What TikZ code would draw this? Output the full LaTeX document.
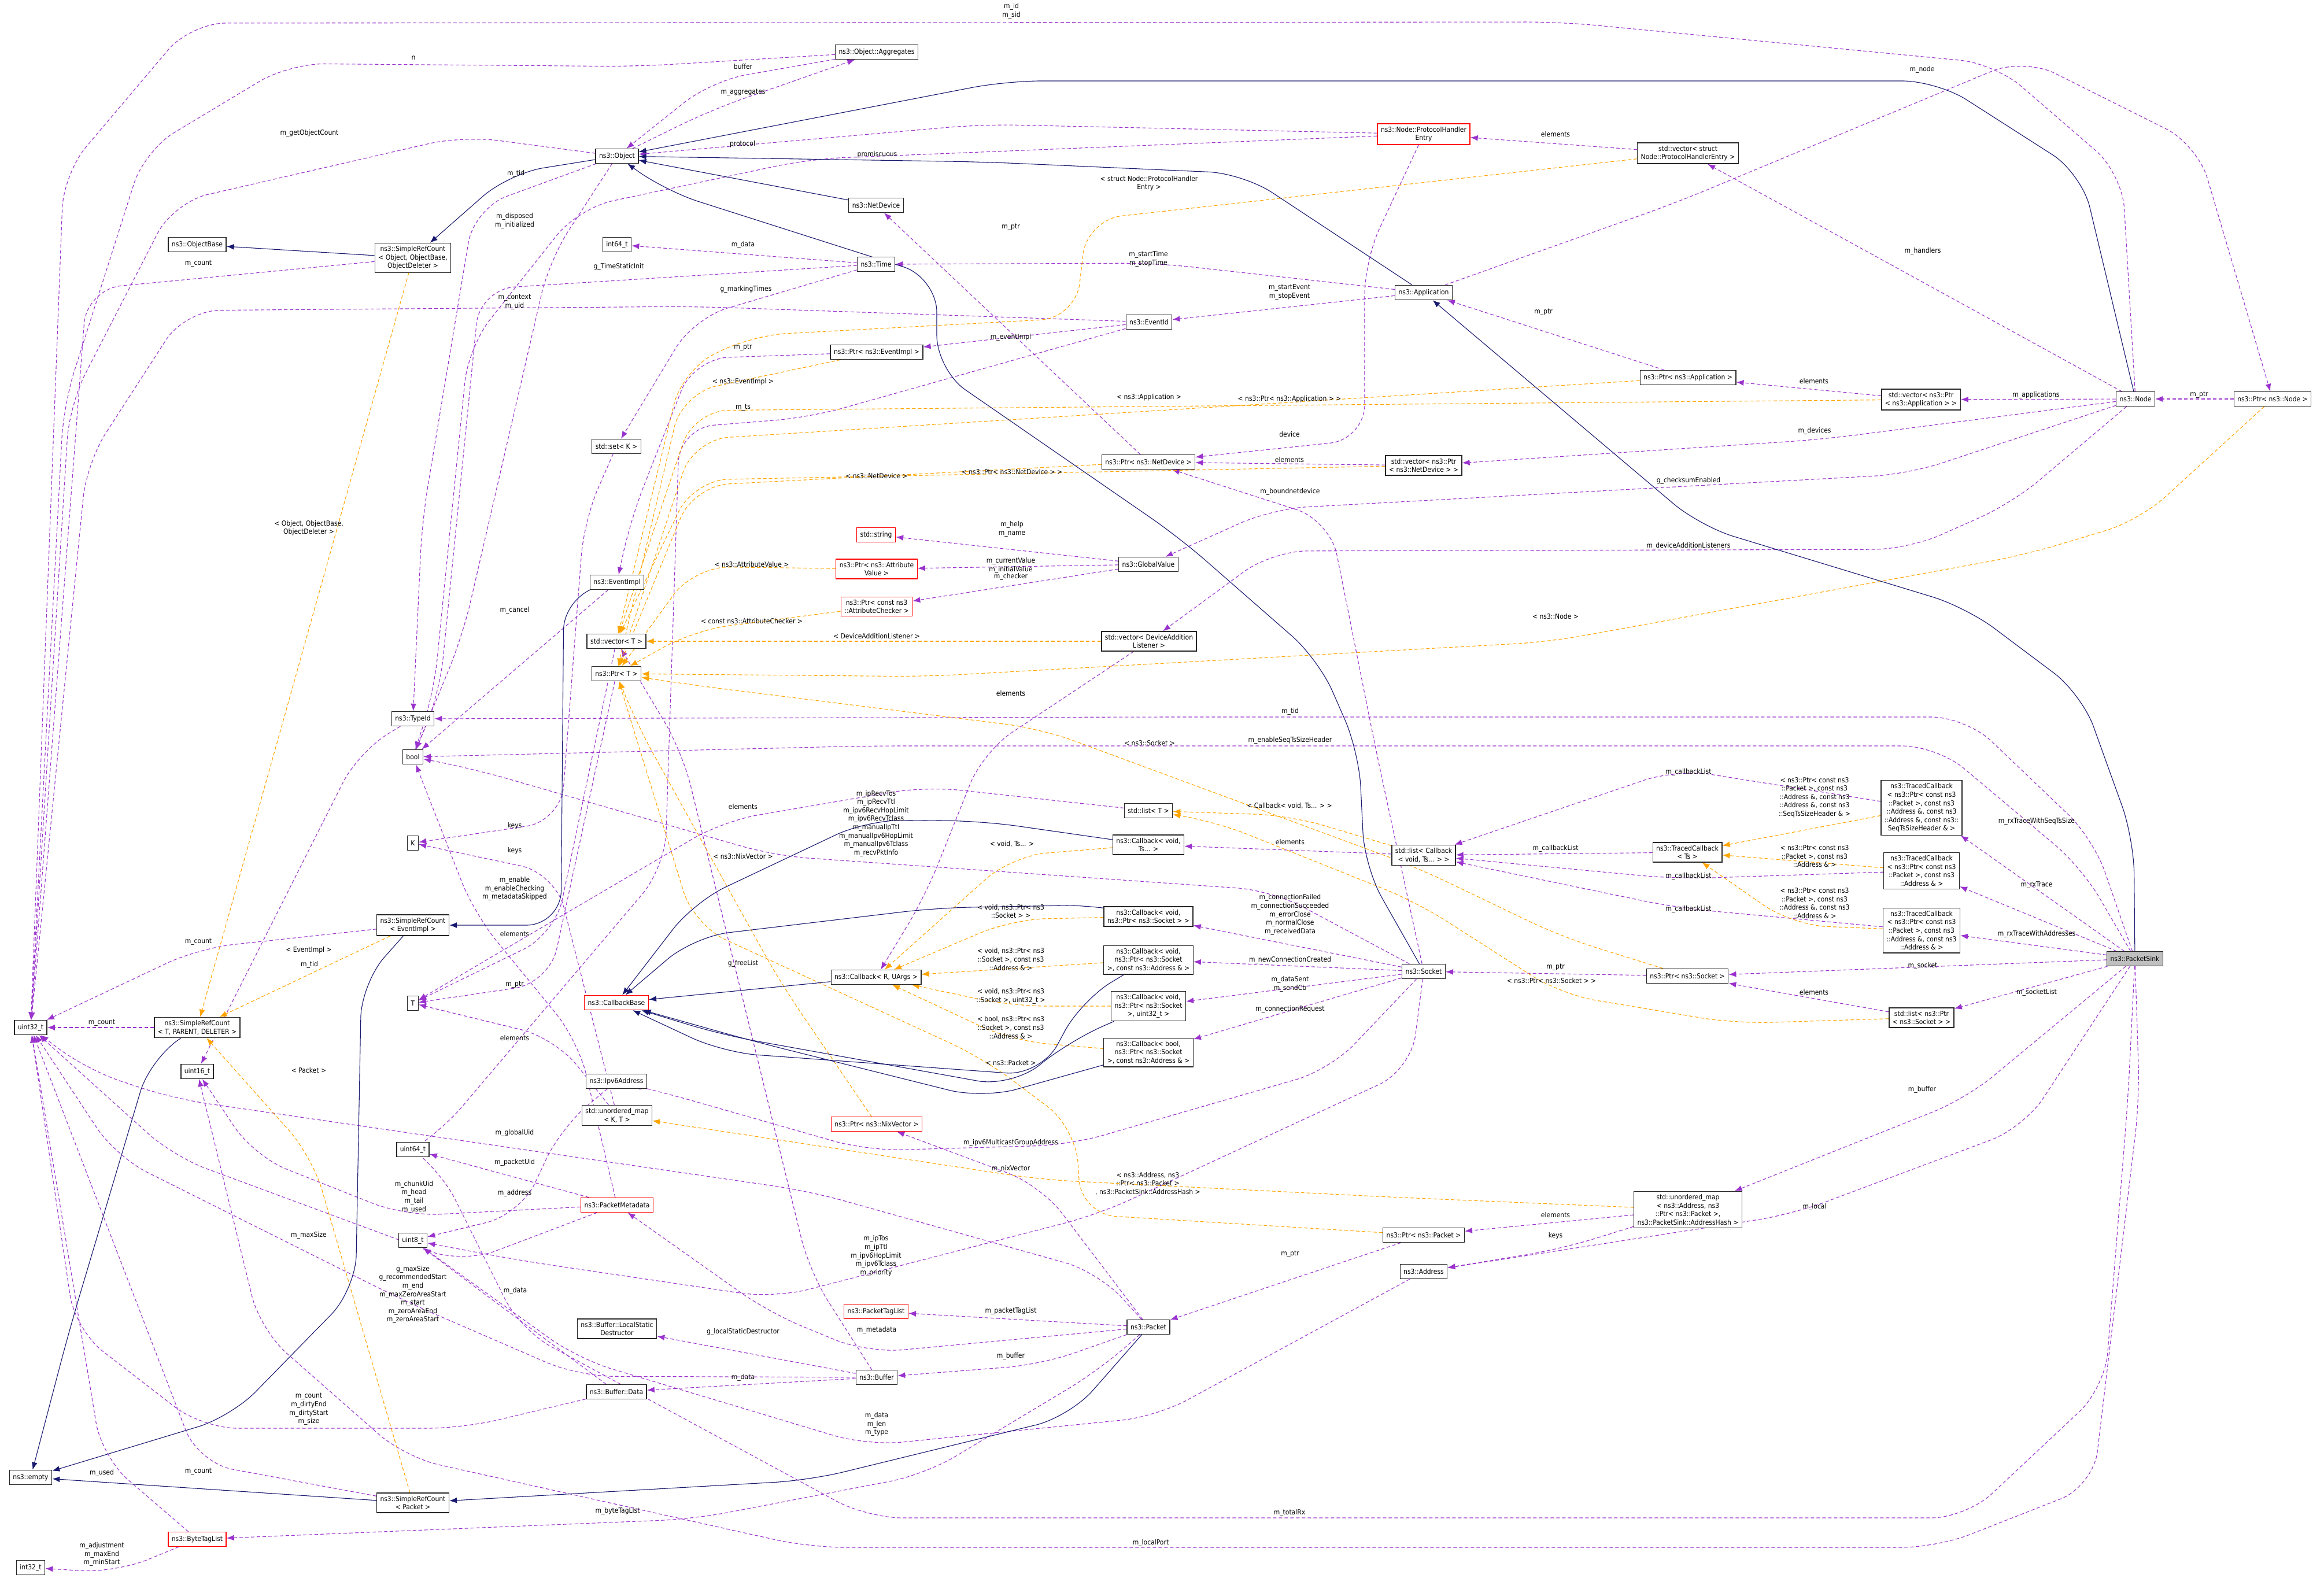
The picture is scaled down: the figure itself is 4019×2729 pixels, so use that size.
\documentclass[tikz,border=0pt]{standalone}
\usepackage{fontspec}
\setmainfont{DejaVu Sans Condensed}
\usetikzlibrary{arrows.meta,backgrounds}
\definecolor{usec}{HTML}{9A32CD}
\definecolor{tplc}{HTML}{FFA500}
\definecolor{inhc}{HTML}{191970}
\pgfdeclarelayer{paper}
\pgfsetlayers{paper,background,main}
\newcommand\lb[2]{\node[lbl] at (#1) {#2};}
\begin{document}
\begin{tikzpicture}[x=1pt,y=-1pt,
  box/.style={draw=black!85,line width=1.3pt,fill=white,align=center,font=\fontsize{12}{14.6}\selectfont,inner xsep=6pt,inner ysep=5pt,minimum height=25pt},
  rbox/.style={box,draw=red},
  lbl/.style={align=center,font=\fontsize{12}{14.6}\selectfont,inner sep=1pt},
  use/.style={draw=usec,line width=1.1pt,dash pattern=on 6pt off 4pt,rounded corners=60pt,-{Latex[length=13pt,width=10pt]}},
  tpl/.style={draw=tplc,line width=1.1pt,dash pattern=on 6pt off 4pt,rounded corners=60pt,-{Latex[length=13pt,width=10pt]}},
  inh/.style={draw=inhc,line width=1.1pt,rounded corners=60pt,-{Latex[length=13pt,width=10pt]}}]
\begin{pgfonlayer}{paper}
\fill[white] (0,0) rectangle (4019,2729);
\end{pgfonlayer}
\useasboundingbox (0,0) rectangle (4019,2729);
% nodes
\node[box] (agg) at (1516,90) {ns3::Object::Aggregates};
\node[box] (obj) at (1067,270) {ns3::Object};
\node[box] (objb) at (341,423) {ns3::ObjectBase};
\node[box] (srco) at (714,446) {ns3::SimpleRefCount\\< Object, ObjectBase,\\ObjectDeleter >};
\node[box] (i64) at (1067,423) {int64\_t};
\node[rbox] (phe) at (2462,232) {ns3::Node::ProtocolHandler\\Entry};
\node[box] (ndev) at (1515,355) {ns3::NetDevice};
\node[box] (time) at (1515,457) {ns3::Time};
\node[box] (app) at (2462,506) {ns3::Application};
\node[box] (evid) at (1987,557) {ns3::EventId};
\node[box] (pevi) at (1516,609) {ns3::Ptr< ns3::EventImpl >};
\node[box] (pndev) at (1986,799) {ns3::Ptr< ns3::NetDevice >};
\node[box] (vpndev) at (2462,805) {std::vector< ns3::Ptr\\< ns3::NetDevice > >};
\node[box] (vphe) at (2919,265) {std::vector< struct\\ Node::ProtocolHandlerEntry >};
\node[box] (papp) at (2919,653) {ns3::Ptr< ns3::Application >};
\node[box] (vpapp) at (3322,691) {std::vector< ns3::Ptr\\< ns3::Application > >};
\node[box] (node) at (3693,690) {ns3::Node};
\node[box] (pnode) at (3930,690) {ns3::Ptr< ns3::Node >};
\node[box] (setk) at (1066,772) {std::set< K >};
\node[box] (evimpl) at (1067,1007) {ns3::EventImpl};
\node[box] (vt) at (1066,1109) {std::vector< T >};
\node[box] (pt) at (1066,1165) {ns3::Ptr< T >};
\node[box] (tid) at (714,1243) {ns3::TypeId};
\node[box] (bool) at (714,1309) {bool};
\node[box] (k) at (714,1458) {K};
\node[box] (srce) at (714,1600) {ns3::SimpleRefCount\\< EventImpl >};
\node[box] (t) at (714,1735) {T};
\node[rbox] (cb) at (1066,1734) {ns3::CallbackBase};
\node[box] (u32) at (53,1777) {uint32\_t};
\node[box] (srct) at (341,1777) {ns3::SimpleRefCount\\< T, PARENT, DELETER >};
\node[rbox] (str) at (1515,925) {std::string};
\node[box] (gv) at (1986,976) {ns3::GlobalValue};
\node[rbox] (pav) at (1516,984) {ns3::Ptr< ns3::Attribute\\Value >};
\node[rbox] (pac) at (1516,1049) {ns3::Ptr< const ns3\\::AttributeChecker >};
\node[box] (vdal) at (1987,1109) {std::vector< DeviceAddition\\Listener >};
\node[box] (listt) at (1986,1402) {std::list< T >};
\node[box] (cbv) at (1986,1461) {ns3::Callback< void,\\ Ts... >};
\node[box] (lcb) at (2462,1479) {std::list< Callback\\< void, Ts... > >};
\node[box] (cb1) at (1986,1585) {ns3::Callback< void,\\ ns3::Ptr< ns3::Socket > >};
\node[box] (cbru) at (1515,1690) {ns3::Callback< R, UArgs >};
\node[box] (cb2) at (1986,1660) {ns3::Callback< void,\\ns3::Ptr< ns3::Socket\\>, const ns3::Address \& >};
\node[box] (sock) at (2462,1680) {ns3::Socket};
\node[box] (cb3) at (1986,1740) {ns3::Callback< void,\\ns3::Ptr< ns3::Socket\\>, uint32\_t >};
\node[box] (cb4) at (1986,1820) {ns3::Callback< bool,\\ns3::Ptr< ns3::Socket\\>, const ns3::Address \& >};
\node[box] (tcts) at (2918,1474) {ns3::TracedCallback\\< Ts >};
\node[box] (tc1) at (3323,1397) {ns3::TracedCallback\\< ns3::Ptr< const ns3\\::Packet >, const ns3\\::Address \&, const ns3\\::Address \&, const ns3::\\SeqTsSizeHeader \& >};
\node[box] (tc2) at (3323,1506) {ns3::TracedCallback\\< ns3::Ptr< const ns3\\::Packet >, const ns3\\::Address \& >};
\node[box] (tc3) at (3323,1609) {ns3::TracedCallback\\< ns3::Ptr< const ns3\\::Packet >, const ns3\\::Address \&, const ns3\\::Address \& >};
\node[box,fill=black!25] (ps) at (3692,1658) {ns3::PacketSink};
\node[box] (psock) at (2918,1688) {ns3::Ptr< ns3::Socket >};
\node[box] (lps) at (3323,1760) {std::list< ns3::Ptr\\< ns3::Socket > >};
\node[box] (u16) at (341,1853) {uint16\_t};
\node[box] (ipv6) at (1066,1870) {ns3::Ipv6Address};
\node[box] (umkt) at (1067,1929) {std::unordered\_map\\< K, T >};
\node[box] (u64) at (714,1988) {uint64\_t};
\node[rbox] (pmeta) at (1067,2084) {ns3::PacketMetadata};
\node[box] (u8) at (714,2145) {uint8\_t};
\node[box] (lsd) at (1067,2298) {ns3::Buffer::LocalStatic\\Destructor};
\node[box] (bdata) at (1066,2407) {ns3::Buffer::Data};
\node[box] (empty) at (53,2555) {ns3::empty};
\node[box] (srcp) at (714,2599) {ns3::SimpleRefCount\\< Packet >};
\node[rbox] (btl) at (341,2662) {ns3::ByteTagList};
\node[box] (i32) at (53,2711) {int32\_t};
\node[rbox] (pnix) at (1516,1944) {ns3::Ptr< ns3::NixVector >};
\node[box] (ppkt) at (2462,2136) {ns3::Ptr< ns3::Packet >};
\node[box] (addr) at (2462,2199) {ns3::Address};
\node[rbox] (ptl) at (1515,2268) {ns3::PacketTagList};
\node[box] (pkt) at (1986,2295) {ns3::Packet};
\node[box] (buf) at (1516,2382) {ns3::Buffer};
\node[box] (uma) at (2919,2092) {std::unordered\_map\\< ns3::Address, ns3\\::Ptr< ns3::Packet >,\\ ns3::PacketSink::AddressHash >};
\begin{pgfonlayer}{background}
% usage edges
\draw[use] (node) -- (3670,300) -- (3450,110) -- (2700,38) -- (330,40) -- (110,300) -- (u32);
\draw[use] (agg) -- (1100,115) -- (500,110) -- (250,260) -- (110,700) -- (u32);
\draw[use] (obj) -- (1230,190) -- (agg);
\draw[use] (agg) -- (1230,140) -- (obj);
\draw[use] (obj) -- (800,235) -- (300,350) -- (120,700) -- (u32);
\draw[use] (srco) -- (150,500) -- (u32);
\draw[use] (obj) -- (820,360) -- (730,900) -- (tid);
\draw[use] (obj) -- (950,450) -- (800,1100) -- (bool);
\draw[use] (phe) -- (1700,215) -- (obj);
\draw[use] (phe) -- (1400,275) -- (1000,360) -- (810,600) -- (750,1200) -- (bool);
\draw[use] (phe) -- (2360,450) -- (2360,760) -- (pndev);
\draw[use] (vphe) -- (phe);
\draw[use] (node) -- (vphe);
\draw[use] (app) -- (2900,350) -- (3500,100) -- (3800,250) -- (pnode);
\draw[use] (pnode) -- (node);
\draw[use] (app) -- (2000,455) -- (time);
\draw[use] (app) -- (evid);
\draw[use] (papp) -- (app);
\draw[use] (vpapp) -- (papp);
\draw[use] (node) -- (vpapp);
\draw[use] (node) -- (3150,760) -- (vpndev);
\draw[use] (vpndev) -- (pndev);
\draw[use] (pndev) -- (ndev);
\draw[use] (node) -- (3300,820) -- (2200,880) -- (gv);
\draw[use] (node) -- (3480,870) -- (3300,950) -- (2200,953) -- (vdal);
\draw[use] (time) -- (i64);
\draw[use] (time) -- (830,500) -- (760,1200) -- (bool);
\draw[use] (time) -- (1200,550) -- (setk);
\draw[use] (evid) -- (1200,530) -- (320,537) -- (150,800) -- (u32);
\draw[use] (evid) -- (pevi);
\draw[use] (evid) -- (1400,722) -- (1175,740) -- (1150,1500) -- (760,1960) -- (u64);
\draw[use] (pevi) -- (1200,620) -- (1090,900) -- (evimpl);
\draw[use] (evimpl) -- (bool);
\draw[use] (setk) -- (1010,900) -- (970,1420) -- (k);
\draw[use] (umkt) -- (960,1510) -- (k);
\draw[use] (gv) -- (str);
\draw[use] (gv) -- (pav);
\draw[use] (gv) -- (pac);
\draw[use] (vdal) -- (1700,1300) -- (1600,1550) -- (cbru);
\draw[use] (ps) -- (3620,1450) -- (3400,1240) -- (2000,1240) -- (tid);
\draw[use] (ps) -- (3600,1500) -- (3350,1290) -- (1500,1290) -- (bool);
\draw[use] (sock) -- (2200,1540) -- (1340,1480) -- (820,1330) -- (bool);
\draw[use] (sock) -- (2380,1300) -- (2300,900) -- (pndev);
\draw[use] (sock) -- (cb1);
\draw[use] (sock) -- (cb2);
\draw[use] (sock) -- (cb3);
\draw[use] (sock) -- (cb4);
\draw[use] (sock) -- (2300,1850) -- (1850,1980) -- (1500,1990) -- (1150,1890) -- (ipv6);
\draw[use] (sock) -- (2440,1850) -- (1900,2100) -- (1340,2245) -- (900,2180) -- (u8);
\draw[use] (psock) -- (sock);
\draw[use] (ps) -- (psock);
\draw[use] (ps) -- (lps);
\draw[use] (lps) -- (psock);
\draw[use] (ps) -- (tc1);
\draw[use] (ps) -- (tc2);
\draw[use] (ps) -- (tc3);
\draw[use] (tc1) -- (2900,1330) -- (lcb);
\draw[use] (tcts) -- (lcb);
\draw[use] (tc2) -- (2900,1520) -- (lcb);
\draw[use] (tc3) -- (2900,1570) -- (lcb);
\draw[use] (lcb) -- (cbv);
\draw[use] (ps) -- (3400,1900) -- (uma);
\draw[use] (ps) -- (3500,1950) -- (3100,2100) -- (addr);
\draw[use] (ps) -- (3680,1900) -- (3640,2400) -- (3400,2625) -- (1500,2625) -- (900,2300) -- (760,2020) -- (u64);
\draw[use] (ps) -- (3700,1900) -- (3620,2570) -- (3350,2676) -- (1400,2676) -- (700,2520) -- (450,2300) -- (u16);
\draw[use] (uma) -- (ppkt);
\draw[use] (uma) -- (2700,2160) -- (addr);
\draw[use] (ppkt) -- (pkt);
\draw[use] (addr) -- (2000,2450) -- (1500,2500) -- (1000,2350) -- (u8);
\draw[use] (pkt) -- (ptl);
\draw[use] (pkt) -- (1500,2340) -- (1330,2270) -- (pmeta);
\draw[use] (pkt) -- (1800,2360) -- (buf);
\draw[use] (pkt) -- (1800,2050) -- (pnix);
\draw[use] (pkt) -- (1900,2200) -- (1400,2060) -- (300,1900) -- (150,1850) -- (u32);
\draw[use] (pkt) -- (1900,2370) -- (1600,2550) -- (1200,2627) -- (btl);
\draw[use] (pmeta) -- (u64);
\draw[use] (pmeta) -- (700,2103) -- (440,2000) -- (u16);
\draw[use] (pmeta) -- (1000,1800) -- (820,1580) -- (bool);
\draw[use] (pmeta) -- (800,2185) -- (300,2000) -- (u32);
\draw[use] (ipv6) -- (970,1950) -- (900,2100) -- (u8);
\draw[use] (buf) -- (1000,2380) -- (700,2250) -- (200,2000) -- (u32);
\draw[use] (buf) -- (lsd);
\draw[use] (buf) -- (bdata);
\draw[use] (bdata) -- (800,2470) -- (350,2470) -- (130,2300) -- (u32);
\draw[use] (bdata) -- (830,2232) -- (u8);
\draw[use] (buf) -- (1400,2200) -- (1180,1300) -- (vt);
\draw[use] (srce) -- (343,1640) -- (u32);
\draw[use] (srct) -- (u32);
\draw[use] (tid) -- (620,1300) -- (u16);
\draw[use] (srcp) -- (343,2530) -- (u32);
\draw[use] (btl) -- (176,2520) -- (u32);
\draw[use] (btl) -- (200,2720) -- (i32);
\draw[use] (pt) -- (950,1700) -- (t);
\draw[use] (vt) -- (960,1615) -- (t);
\draw[use] (umkt) -- (960,1795) -- (t);
\draw[use] (listt) -- (1600,1360) -- (1250,1420) -- (t);
% template edges
\draw[tpl] (srco) -- (srct);
\draw[tpl] (srce) -- (srct);
\draw[tpl] (srcp) -- (540,2000) -- (srct);
\draw[tpl] (vphe) -- (1880,380) -- (1860,550) -- (1300,580) -- (1180,640) -- (vt);
\draw[tpl] (pevi) -- (1180,680) -- (pt);
\draw[tpl] (papp) -- (1200,760) -- (pt);
\draw[tpl] (vpapp) -- (1200,710) -- (vt);
\draw[tpl] (pndev) -- (1200,840) -- (pt);
\draw[tpl] (vpndev) -- (1200,830) -- (vt);
\draw[tpl] (pav) -- (1200,980) -- (pt);
\draw[tpl] (pac) -- (1200,1090) -- (pt);
\draw[tpl] (vdal) -- (vt);
\draw[tpl] (pnode) -- (3700,900) -- (3500,960) -- (2680,1110) -- (1600,1170) -- (pt);
\draw[tpl] (psock) -- (2700,1620) -- (2450,1500) -- (1800,1260) -- (1200,1185) -- (pt);
\draw[tpl] (lcb) -- (2230,1410) -- (listt);
\draw[tpl] (lps) -- (3000,1770) -- (2700,1720) -- (2450,1560) -- (2100,1420) -- (listt);
\draw[tpl] (cbv) -- (1750,1480) -- (cbru);
\draw[tpl] (cb1) -- (1750,1590) -- (cbru);
\draw[tpl] (cb2) -- (cbru);
\draw[tpl] (cb3) -- (1750,1740) -- (cbru);
\draw[tpl] (cb4) -- (1750,1800) -- (cbru);
\draw[tpl] (tc1) -- (tcts);
\draw[tpl] (tc2) -- (tcts);
\draw[tpl] (tc3) -- (3100,1600) -- (tcts);
\draw[tpl] (pnix) -- (1350,1700) -- (1100,1250) -- (pt);
\draw[tpl] (ppkt) -- (1870,2100) -- (1860,1950) -- (1700,1830) -- (1200,1600) -- (pt);
\draw[tpl] (uma) -- (2400,2070) -- (1800,2040) -- (umkt);
% inheritance
\draw[inh] (obj) -- (880,300) -- (srco);
\draw[inh] (srco) -- (objb);
\draw[inh] (ndev) -- (obj);
\draw[inh] (app) -- (2150,300) -- (1700,280) -- (obj);
\draw[inh] (node) -- (3600,300) -- (3350,140) -- (1740,140) -- (obj);
\draw[inh] (sock) -- (2360,1500) -- (2350,1300) -- (2280,1140) -- (2040,930) -- (1620,640) -- (1620,480) -- (1150,330) -- (obj);
\draw[inh] (ps) -- (3690,1450) -- (3600,1200) -- (3400,1050) -- (2940,910) -- (app);
\draw[inh] (evimpl) -- (975,1030) -- (970,1600) -- (srce);
\draw[inh] (srce) -- (625,1700) -- (615,2230) -- (400,2450) -- (empty);
\draw[inh] (srct) -- (260,1830) -- (120,2300) -- (empty);
\draw[inh] (srcp) -- (empty);
\draw[inh] (pkt) -- (1850,2450) -- (1400,2560) -- (srcp);
\draw[inh] (cbv) -- (1700,1420) -- (1500,1418) -- (1200,1560) -- (cb);
\draw[inh] (cb1) -- (1900,1565) -- (1620,1570) -- (1200,1620) -- (cb);
\draw[inh] (cb2) -- (1870,1730) -- (1800,1860) -- (1250,1820) -- (cb);
\draw[inh] (cb3) -- (1850,1800) -- (1750,1880) -- (1250,1790) -- (cb);
\draw[inh] (cb4) -- (1700,1900) -- (1300,1800) -- (cb);
\draw[inh] (cbru) -- (cb);
\end{pgfonlayer}
% labels
\lb{1749,19}{m\_id\\m\_sid}
\lb{715,100}{n}
\lb{1285,115}{buffer}
\lb{1285,160}{m\_aggregates}
\lb{535,230}{m\_getObjectCount}
\lb{343,456}{m\_count}
\lb{892,300}{m\_tid}
\lb{890,382}{m\_disposed\\m\_initialized}
\lb{1284,249}{protocol}
\lb{1517,267}{promiscuous}
\lb{2230,751}{device}
\lb{2690,232}{elements}
\lb{3325,434}{m\_handlers}
\lb{3324,120}{m\_node}
\lb{3803,683}{m\_ptr}
\lb{1986,448}{m\_startTime\\m\_stopTime}
\lb{2230,505}{m\_startEvent\\m\_stopEvent}
\lb{2669,540}{m\_ptr}
\lb{3137,659}{elements}
\lb{3521,683}{m\_applications}
\lb{3138,745}{m\_devices}
\lb{2230,795}{elements}
\lb{1748,393}{m\_ptr}
\lb{2920,831}{g\_checksumEnabled}
\lb{2920,944}{m\_deviceAdditionListeners}
\lb{1285,423}{m\_data}
\lb{1070,461}{g\_TimeStaticInit}
\lb{1290,500}{g\_markingTimes}
\lb{890,522}{m\_context\\m\_uid}
\lb{1748,583}{m\_eventImpl}
\lb{1285,705}{m\_ts}
\lb{1285,601}{m\_ptr}
\lb{890,1055}{m\_cancel}
\lb{890,1428}{keys}
\lb{890,1471}{keys}
\lb{1750,915}{m\_help\\m\_name}
\lb{1748,978}{m\_currentValue\\m\_initialValue}
\lb{1748,997}{m\_checker}
\lb{1748,1199}{elements}
\lb{2231,1230}{m\_tid}
\lb{2231,1280}{m\_enableSeqTsSizeHeader}
\lb{1515,1424}{m\_ipRecvTos\\m\_ipRecvTtl\\m\_ipv6RecvHopLimit\\m\_ipv6RecvTclass\\m\_manualIpTtl\\m\_manualIpv6HopLimit\\m\_manualIpv6Tclass\\m\_recvPktInfo}
\lb{2231,850}{m\_boundnetdevice}
\lb{2231,1582}{m\_connectionFailed\\m\_connectionSucceeded\\m\_errorClose\\m\_normalClose\\m\_receivedData}
\lb{2231,1660}{m\_newConnectionCreated}
\lb{2231,1702}{m\_dataSent\\m\_sendCb}
\lb{2231,1745}{m\_connectionRequest}
\lb{1748,1976}{m\_ipv6MulticastGroupAddress}
\lb{1515,2172}{m\_ipTos\\m\_ipTtl\\m\_ipv6HopLimit\\m\_ipv6Tclass\\m\_priority}
\lb{2690,1673}{m\_ptr}
\lb{3325,1670}{m\_socket}
\lb{3522,1716}{m\_socketList}
\lb{3137,1716}{elements}
\lb{3522,1420}{m\_rxTraceWithSeqTsSize}
\lb{3522,1531}{m\_rxTrace}
\lb{3522,1615}{m\_rxTraceWithAddresses}
\lb{2920,1335}{m\_callbackList}
\lb{2690,1467}{m\_callbackList}
\lb{2920,1515}{m\_callbackList}
\lb{2920,1572}{m\_callbackList}
\lb{2231,1456}{elements}
\lb{3324,1884}{m\_buffer}
\lb{3138,2087}{m\_local}
\lb{2230,2616}{m\_totalRx}
\lb{1990,2668}{m\_localPort}
\lb{2690,2101}{elements}
\lb{2690,2137}{keys}
\lb{2231,2169}{m\_ptr}
\lb{1516,2463}{m\_data\\m\_len\\m\_type}
\lb{1748,2267}{m\_packetTagList}
\lb{1516,2300}{m\_metadata}
\lb{1748,2345}{m\_buffer}
\lb{1748,2021}{m\_nixVector}
\lb{890,1959}{m\_globalUid}
\lb{1068,2613}{m\_byteTagList}
\lb{890,2010}{m\_packetUid}
\lb{716,2070}{m\_chunkUid\\m\_head\\m\_tail\\m\_used}
\lb{890,1537}{m\_enable\\m\_enableChecking\\m\_metadataSkipped}
\lb{534,2136}{m\_maxSize}
\lb{890,2063}{m\_address}
\lb{714,2239}{g\_maxSize\\g\_recommendedStart\\m\_end\\m\_maxZeroAreaStart\\m\_start\\m\_zeroAreaEnd\\m\_zeroAreaStart}
\lb{1285,2303}{g\_localStaticDestructor}
\lb{1285,2382}{m\_data}
\lb{534,2437}{m\_count\\m\_dirtyEnd\\m\_dirtyStart\\m\_size}
\lb{891,2232}{m\_data}
\lb{1285,1666}{g\_freeList}
\lb{343,1629}{m\_count}
\lb{176,1769}{m\_count}
\lb{535,1668}{m\_tid}
\lb{343,2545}{m\_count}
\lb{176,2547}{m\_used}
\lb{176,2688}{m\_adjustment\\m\_maxEnd\\m\_minStart}
\lb{890,1703}{m\_ptr}
\lb{890,1615}{elements}
\lb{890,1795}{elements}
\lb{1285,1395}{elements}
\lb{534,913}{< Object, ObjectBase,\\ObjectDeleter >}
\lb{534,1643}{< EventImpl >}
\lb{534,1851}{< Packet >}
\lb{1987,317}{< struct Node::ProtocolHandler\\Entry >}
\lb{1285,660}{< ns3::EventImpl >}
\lb{1987,687}{< ns3::Application >}
\lb{2230,690}{< ns3::Ptr< ns3::Application > >}
\lb{1516,823}{< ns3::NetDevice >}
\lb{1750,816}{< ns3::Ptr< ns3::NetDevice > >}
\lb{1300,976}{< ns3::AttributeValue >}
\lb{1300,1074}{< const ns3::AttributeChecker >}
\lb{1516,1100}{< DeviceAdditionListener >}
\lb{2690,1066}{< ns3::Node >}
\lb{1988,1285}{< ns3::Socket >}
\lb{2230,1394}{< Callback< void, Ts... > >}
\lb{2683,1696}{< ns3::Ptr< ns3::Socket > >}
\lb{1750,1460}{< void, Ts... >}
\lb{1748,1576}{< void, ns3::Ptr< ns3\\::Socket > >}
\lb{1748,1659}{< void, ns3::Ptr< ns3\\::Socket >, const ns3\\::Address \& >}
\lb{1748,1723}{< void, ns3::Ptr< ns3\\::Socket >, uint32\_t >}
\lb{1748,1777}{< bool, ns3::Ptr< ns3\\::Socket >, const ns3\\::Address \& >}
\lb{3138,1379}{< ns3::Ptr< const ns3\\::Packet >, const ns3\\::Address \&, const ns3\\::Address \&, const ns3\\::SeqTsSizeHeader \& >}
\lb{3138,1481}{< ns3::Ptr< const ns3\\::Packet >, const ns3\\::Address \& >}
\lb{3138,1562}{< ns3::Ptr< const ns3\\::Packet >, const ns3\\::Address \&, const ns3\\::Address \& >}
\lb{1285,1481}{< ns3::NixVector >}
\lb{1748,1838}{< ns3::Packet >}
\lb{1985,2047}{< ns3::Address, ns3\\::Ptr< ns3::Packet >\\, ns3::PacketSink::AddressHash >}
\end{tikzpicture}
\end{document}
